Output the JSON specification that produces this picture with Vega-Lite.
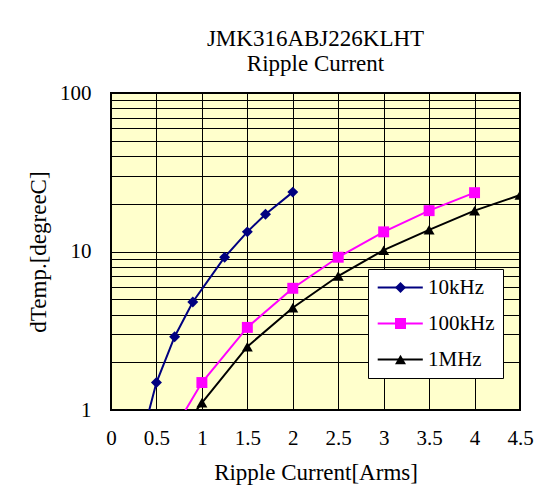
{
  "$schema": "https://vega.github.io/schema/vega-lite/v6.json",
  "width": 409,
  "height": 317,
  "autosize": {"type": "none"},
  "padding": {"left": 111, "top": 93, "right": 17, "bottom": 81},
  "background": "white",
  "title": {
    "text": ["JMK316ABJ226KLHT", "Ripple Current"],
    "font": "Liberation Serif",
    "fontSize": 23,
    "fontWeight": "normal",
    "color": "black",
    "lineHeight": 25,
    "anchor": "middle",
    "frame": "group",
    "offset": 6
  },
  "config": {
    "view": {"fill": "#FFFFCC", "stroke": "black", "strokeWidth": 2},
    "axis": {
      "labelFont": "Liberation Serif",
      "titleFont": "Liberation Serif",
      "labelColor": "black",
      "titleColor": "black",
      "labelFontSize": 21,
      "titleFontSize": 23,
      "titleFontWeight": "normal",
      "grid": true,
      "gridColor": "black",
      "gridWidth": 1,
      "gridOpacity": 1,
      "ticks": false,
      "domain": false,
      "labelFlush": false
    }
  },
  "data": {
    "values": [
      {"series": "10kHz", "x": 0.4, "y": 0.9},
      {"series": "10kHz", "x": 0.5, "y": 1.49},
      {"series": "10kHz", "x": 0.7, "y": 2.9},
      {"series": "10kHz", "x": 0.9, "y": 4.8},
      {"series": "10kHz", "x": 1.25, "y": 9.2},
      {"series": "10kHz", "x": 1.5, "y": 13.3},
      {"series": "10kHz", "x": 1.7, "y": 17.2},
      {"series": "10kHz", "x": 2.0, "y": 23.7},
      {"series": "100kHz", "x": 0.5, "y": 0.49},
      {"series": "100kHz", "x": 1.0, "y": 1.49},
      {"series": "100kHz", "x": 1.5, "y": 3.32},
      {"series": "100kHz", "x": 2.0, "y": 5.86},
      {"series": "100kHz", "x": 2.5, "y": 9.2},
      {"series": "100kHz", "x": 3.0, "y": 13.3},
      {"series": "100kHz", "x": 3.5, "y": 18.1},
      {"series": "100kHz", "x": 4.0, "y": 23.5},
      {"series": "1MHz", "x": 0.5, "y": 0.46},
      {"series": "1MHz", "x": 1.0, "y": 1.11},
      {"series": "1MHz", "x": 1.5, "y": 2.51},
      {"series": "1MHz", "x": 2.0, "y": 4.42},
      {"series": "1MHz", "x": 2.5, "y": 7.0},
      {"series": "1MHz", "x": 3.0, "y": 10.2},
      {"series": "1MHz", "x": 3.5, "y": 13.7},
      {"series": "1MHz", "x": 4.0, "y": 18.1},
      {"series": "1MHz", "x": 4.5, "y": 22.7}
    ]
  },
  "encoding": {
    "x": {
      "field": "x",
      "type": "quantitative",
      "scale": {"domain": [0, 4.5], "nice": false, "zero": false},
      "axis": {
        "values": [0, 0.5, 1, 1.5, 2, 2.5, 3, 3.5, 4, 4.5],
        "format": "~g",
        "labelPadding": 17,
        "title": "Ripple Current[Arms]",
        "titlePadding": 13
      }
    },
    "y": {
      "field": "y",
      "type": "quantitative",
      "scale": {"type": "log", "domain": [1, 100], "nice": false},
      "axis": {
        "values": [1, 2, 3, 4, 5, 6, 7, 8, 9, 10, 20, 30, 40, 50, 60, 70, 80, 90, 100],
        "labelExpr": "indexof([1, 10, 100], datum.value) >= 0 ? datum.label : ''",
        "format": "d",
        "labelPadding": 20,
        "title": "dTemp.[degreeC]",
        "titlePadding": 9
      }
    }
  },
  "layer": [
    {
      "mark": {"type": "line", "strokeWidth": 2, "clip": true},
      "encoding": {
        "stroke": {
          "field": "series",
          "type": "nominal",
          "sort": ["10kHz", "100kHz", "1MHz"],
          "scale": {"range": ["#000080", "#FF00FF", "#000000"]},
          "legend": {
            "title": null,
            "orient": "none",
            "legendX": 257,
            "legendY": 176,
            "fillColor": "white",
            "strokeColor": "black",
            "padding": 8,
            "rowPadding": 14,
            "labelFont": "Liberation Serif",
            "labelFontSize": 21,
            "labelColor": "black",
            "labelOffset": 31,
            "symbolSize": 121,
            "symbolType": "M-1.6,0H6.6",
            "symbolStrokeWidth": 2,
            "zindex": 0
          }
        }
      }
    },
    {
      "mark": {"type": "point", "filled": true, "opacity": 1, "size": 120, "clip": true},
      "encoding": {
        "color": {
          "field": "series",
          "type": "nominal",
          "scale": {"domain": ["10kHz", "100kHz", "1MHz"], "range": ["#000080", "#FF00FF", "#000000"]},
          "legend": {
            "title": null,
            "orient": "none",
            "legendX": 257,
            "legendY": 176,
            "padding": 8,
            "rowPadding": 14,
            "labelFont": "Liberation Serif",
            "labelFontSize": 21,
            "labelExpr": "''",
            "labelOffset": 31,
            "symbolSize": 121,
            "symbolOffset": 14,
            "symbolOpacity": 1,
            "zindex": 1
          }
        },
        "shape": {
          "field": "series",
          "type": "nominal",
          "scale": {"domain": ["10kHz", "100kHz", "1MHz"], "range": ["diamond", "square", "triangle-up"]},
          "legend": null
        }
      }
    }
  ]
}
